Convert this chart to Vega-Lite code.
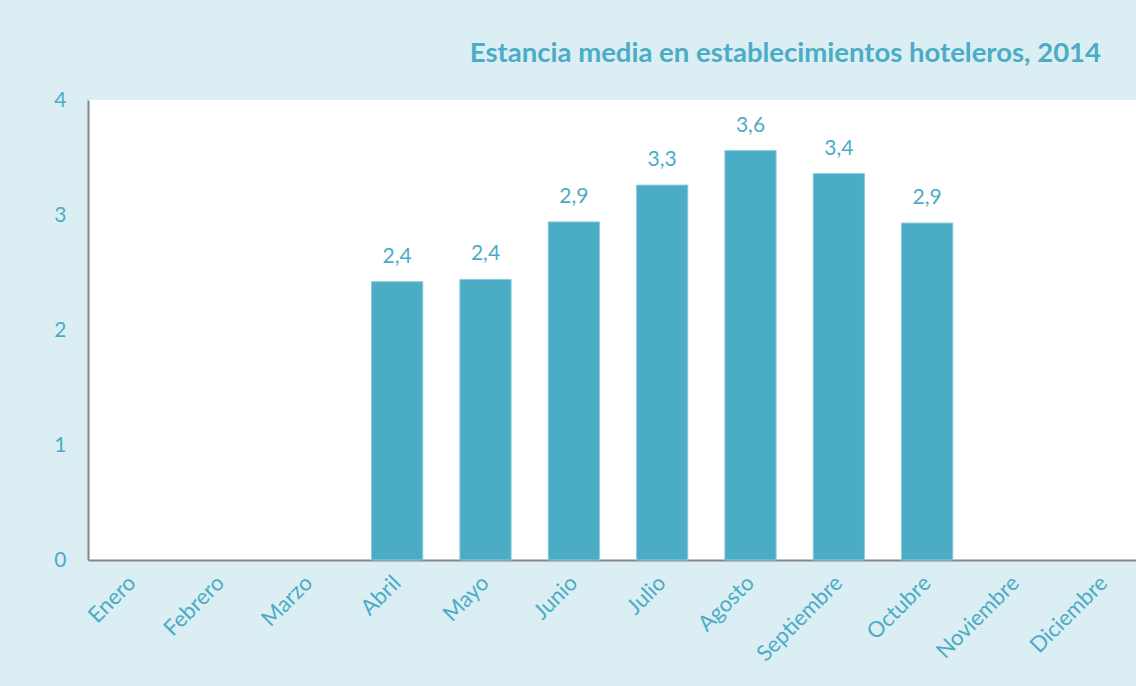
{
  "$schema": "https://vega.github.io/schema/vega-lite/v6.json",
  "autosize": {"type": "none"},
  "padding": {"left": 88, "top": 100, "right": 0, "bottom": 126},
  "width": 1060,
  "height": 460,
  "background": "#DBEEF3",
  "title": {
    "text": "Estancia media en establecimientos hoteleros, 2014",
    "anchor": "end",
    "frame": "group",
    "dx": -47,
    "offset": 22,
    "font": "Lato",
    "fontSize": 27.5,
    "fontWeight": "bold",
    "color": "#4BACC6"
  },
  "data": {
    "values": [
      {"mes": "Enero", "valor": null},
      {"mes": "Febrero", "valor": null},
      {"mes": "Marzo", "valor": null},
      {"mes": "Abril", "valor": 2.42},
      {"mes": "Mayo", "valor": 2.44},
      {"mes": "Junio", "valor": 2.94},
      {"mes": "Julio", "valor": 3.26},
      {"mes": "Agosto", "valor": 3.56},
      {"mes": "Septiembre", "valor": 3.36},
      {"mes": "Octubre", "valor": 2.93},
      {"mes": "Noviembre", "valor": null},
      {"mes": "Diciembre", "valor": null}
    ]
  },
  "encoding": {
    "x": {
      "field": "mes",
      "type": "nominal",
      "sort": null,
      "scale": {
        "domain": ["Enero", "Febrero", "Marzo", "Abril", "Mayo", "Junio", "Julio", "Agosto", "Septiembre", "Octubre", "Noviembre", "Diciembre"],
        "paddingInner": 0.42,
        "paddingOuter": 0.21
      },
      "axis": {
        "title": null,
        "labelAngle": -45,
        "labelAlign": "right",
        "labelBaseline": "middle",
        "labelPadding": 19,
        "ticks": false,
        "domainColor": "#868686",
        "domainWidth": 2,
        "labelFont": "Lato",
        "labelFontSize": 22,
        "labelColor": "#4BACC6"
      }
    },
    "y": {
      "field": "valor",
      "type": "quantitative",
      "scale": {"domain": [0, 4], "nice": false},
      "axis": {
        "title": null,
        "values": [0, 1, 2, 3, 4],
        "ticks": false,
        "grid": false,
        "labelPadding": 22,
        "domainColor": "#868686",
        "domainWidth": 2,
        "labelFont": "Lato",
        "labelFontSize": 21,
        "labelColor": "#4BACC6"
      }
    }
  },
  "layer": [
    {"mark": {"type": "bar", "color": "#4BACC6", "stroke": "#8CCBDC", "strokeWidth": 1}},
    {
      "mark": {"type": "text", "baseline": "bottom", "dy": -15, "font": "Lato", "fontSize": 21, "color": "#4BACC6"},
      "encoding": {"text": {"field": "valor", "type": "quantitative", "format": ".1f"}}
    }
  ],
  "config": {
    "locale": {"number": {"decimal": ",", "thousands": ".", "grouping": [3], "currency": ["", " €"]}},
    "view": {"fill": "white", "stroke": null}
  }
}
